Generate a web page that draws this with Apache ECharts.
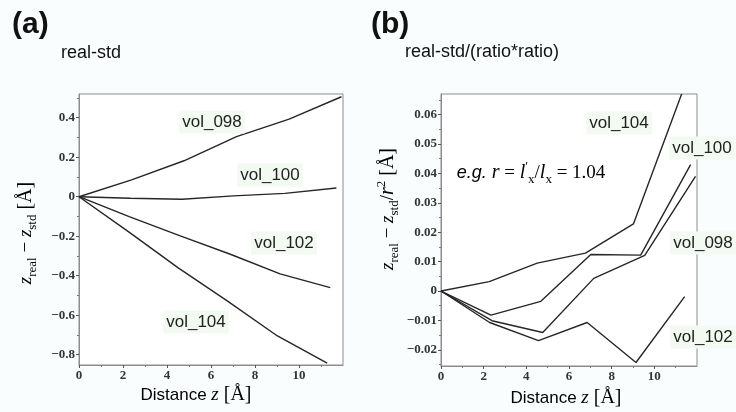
<!DOCTYPE html>
<html>
<head>
<meta charset="utf-8">
<script src="https://cdn.jsdelivr.net/npm/echarts@6/dist/echarts.min.js"></script>
<style>
  html, body { margin: 0; padding: 0; background: #fafdfd; }
  #chart { width: 736px; height: 412px; }
</style>
</head>
<body>
<div id="chart"></div>
<script>
// Displacement z_real - z_std along the slab for four cell volumes.
const seriesNames = ['vol_098', 'vol_100', 'vol_102', 'vol_104'];

// Distance z [Å] of each sampled layer, per volume
const z098 = [0, 2.39, 4.77, 7.16, 9.55, 11.93];
const z100 = [0, 2.34, 4.68, 7.02, 9.36, 11.70];
const z102 = [0, 2.28, 4.57, 6.85, 9.14, 11.42];
const z104 = [0, 2.26, 4.51, 6.77, 9.02, 11.28];

// (a) real - std [Å]
const diffA098 = [0, 0.085, 0.182, 0.304, 0.393, 0.506];
const diffA100 = [0, -0.008, -0.013, 0.004, 0.017, 0.044];
const diffA102 = [0, -0.101, -0.197, -0.290, -0.391, -0.460];
const diffA104 = [0, -0.178, -0.360, -0.530, -0.705, -0.843];

// (b) real - std / (ratio*ratio) [Å]
const diffB098 = [0, -0.0101, -0.0141, 0.0043, 0.0121, 0.0390];
const diffB100 = [0, -0.0082, -0.0035, 0.0124, 0.0122, 0.0430];
const diffB102 = [0, -0.0107, -0.0169, -0.0107, -0.0243, -0.0019];
const diffB104 = [0, 0.0032, 0.0095, 0.0129, 0.0228, 0.0670];

// Axis ticks
const xMajor = [0, 2, 4, 6, 8, 10];
const xMinor = [1, 3, 5, 7, 9, 11];
const yMajorA = [-0.8, -0.6, -0.4, -0.2, 0, 0.2, 0.4];
const yMinorA = [-0.7, -0.5, -0.3, -0.1, 0.1, 0.3, 0.5];
const yMajorB = [-0.02, -0.01, 0, 0.01, 0.02, 0.03, 0.04, 0.05, 0.06];
const yMinorB = [-0.025, -0.015, -0.005, 0.005, 0.015, 0.025, 0.035, 0.045, 0.055, 0.065];

const zArrays = [z098, z100, z102, z104];
const diffA = [diffA098, diffA100, diffA102, diffA104];
const diffB = [diffB098, diffB100, diffB102, diffB104];

const pair = (xs, ys) => xs.map((x, i) => [x, ys[i]]);

const AXIS_COLOR = '#8c8c8c';
const tickFont = { fontFamily: 'Liberation Serif', fontSize: 13, fontWeight: 'bold', color: '#333' };
const fmt = v => {
  const r = Math.round(v * 1000) / 1000;
  return (r < 0 ? '\u2212' : '') + String(Math.abs(r));
};

function xAxes(gridIndex) {
  return [
    {
      type: 'value', gridIndex, min: 0, max: 12, position: 'bottom',
      axisLine: { show: true, onZero: false, lineStyle: { color: AXIS_COLOR, width: 1 } },
      axisTick: { show: true, length: 3, customValues: xMajor, lineStyle: { color: '#555' } },
      axisLabel: Object.assign({ customValues: xMajor, margin: 4, formatter: fmt }, tickFont),
      splitLine: { show: false }
    },
    {
      type: 'value', gridIndex, min: 0, max: 12, position: 'bottom',
      axisLine: { show: false, onZero: false },
      axisTick: { show: true, length: 2, customValues: xMinor, lineStyle: { color: '#777' } },
      axisLabel: { show: false },
      splitLine: { show: false }
    }
  ];
}

function yAxes(gridIndex, min, max, major, minor) {
  return [
    {
      type: 'value', gridIndex, min, max, position: 'left',
      axisLine: { show: true, onZero: false, lineStyle: { color: AXIS_COLOR, width: 1 } },
      axisTick: { show: true, length: 3, customValues: major, lineStyle: { color: '#555' } },
      axisLabel: Object.assign({ customValues: major, margin: 4, formatter: fmt }, tickFont),
      splitLine: { show: false }
    },
    {
      type: 'value', gridIndex, min, max, position: 'left',
      axisLine: { show: false, onZero: false },
      axisTick: { show: true, length: 2, customValues: minor, lineStyle: { color: '#777' } },
      axisLabel: { show: false },
      splitLine: { show: false }
    }
  ];
}

const series = [];
seriesNames.forEach((name, i) => {
  series.push({
    name, type: 'line', xAxisIndex: 0, yAxisIndex: 0,
    data: pair(zArrays[i], diffA[i]),
    symbol: 'none', clip: true,
    lineStyle: { color: '#262626', width: 1.4 }
  });
  series.push({
    name, type: 'line', xAxisIndex: 2, yAxisIndex: 2,
    data: pair(zArrays[i], diffB[i]),
    symbol: 'none', clip: true,
    lineStyle: { color: '#262626', width: 1.4 }
  });
});

// Text styles
const serif = 'Liberation Serif';
const sans = 'Liberation Sans';
const mathRich = {
  zi: { fontFamily: serif, fontStyle: 'italic', fontSize: 19, lineHeight: 26, verticalAlign: 'middle', color: '#222' },
  sub: { fontFamily: serif, fontSize: 13, lineHeight: 15, verticalAlign: 'bottom', color: '#222' },
  sup: { fontFamily: serif, fontSize: 13, lineHeight: 15, verticalAlign: 'top', color: '#222' },
  op: { fontFamily: serif, fontSize: 19, lineHeight: 26, verticalAlign: 'middle', color: '#222' },
  br: { fontFamily: serif, fontSize: 20, lineHeight: 26, verticalAlign: 'middle', color: '#222' },
  s: { fontFamily: sans, fontSize: 17, lineHeight: 26, verticalAlign: 'middle', color: '#222' },
  eg: { fontFamily: sans, fontStyle: 'italic', fontSize: 18, lineHeight: 26, verticalAlign: 'middle', color: '#222' },
  ri: { fontFamily: serif, fontStyle: 'italic', fontSize: 20, lineHeight: 26, verticalAlign: 'middle', color: '#222' }
};

function mathText(x, y, text, rotation) {
  return {
    type: 'text', x, y, rotation: rotation || 0, z: 100,
    style: { text, rich: mathRich, align: 'center', verticalAlign: 'middle' }
  };
}

function seriesLabel(x, y, text) {
  return {
    type: 'text', x, y, z: 100,
    style: {
      text, fontFamily: sans, fontSize: 17, fill: '#222',
      align: 'center', verticalAlign: 'middle',
      backgroundColor: '#f3faf1', padding: [3, 3, 3, 3]
    }
  };
}

function plainText(x, y, text, size, weight) {
  return {
    type: 'text', x, y, z: 100,
    style: { text, fontFamily: sans, fontSize: size, fontWeight: weight || 'normal', fill: '#111', align: 'left', verticalAlign: 'middle' }
  };
}

const option = {
  backgroundColor: '#fafdfd',
  animation: false,
  grid: [
    { left: 79, top: 94, width: 264, height: 271, show: true, backgroundColor: '#ffffff', borderColor: AXIS_COLOR, borderWidth: 1 },
    { left: 441, top: 94, width: 256, height: 272, show: true, backgroundColor: '#ffffff', borderColor: AXIS_COLOR, borderWidth: 1 }
  ],
  xAxis: [...xAxes(0), ...xAxes(1)],
  yAxis: [
    ...yAxes(0, -0.852, 0.52, yMajorA, yMinorA),
    ...yAxes(1, -0.0255, 0.067, yMajorB, yMinorB)
  ],
  series,
  graphic: [
    plainText(12, 25, '(a)', 30, 'bold'),
    plainText(371, 25, '(b)', 30, 'bold'),
    plainText(61, 53, 'real-std', 18),
    plainText(405, 52, 'real-std/(ratio*ratio)', 18),

    seriesLabel(212, 122, 'vol_098'),
    seriesLabel(270, 175, 'vol_100'),
    seriesLabel(284, 243, 'vol_102'),
    seriesLabel(196, 322, 'vol_104'),

    seriesLabel(619, 123, 'vol_104'),
    seriesLabel(702, 148, 'vol_100'),
    seriesLabel(703, 243, 'vol_098'),
    seriesLabel(703, 337, 'vol_102'),

    mathText(26, 233, '{zi|z}{sub|real}{op| \u2212 }{zi|z}{sub|std}{br| [\u00C5]}', Math.PI / 2),
    mathText(388, 209, '{zi|z}{sub|real}{op| \u2212 }{zi|z}{sub|std}{op|/}{ri|r}{sup|2}{br| [\u00C5]}', Math.PI / 2),
    mathText(196, 395, '{s|Distance }{zi|z}{br| [\u00C5]}'),
    mathText(566, 398, '{s|Distance }{zi|z}{br| [\u00C5]}'),
    mathText(531, 173, '{eg|e.g. }{ri|r}{op| = }{ri|l}{sup|\u2032}{sub|x}{op|/}{ri|l}{sub|x}{op| = 1.04}')
  ]
};

echarts.init(document.getElementById('chart')).setOption(option);
</script>
</body>
</html>
